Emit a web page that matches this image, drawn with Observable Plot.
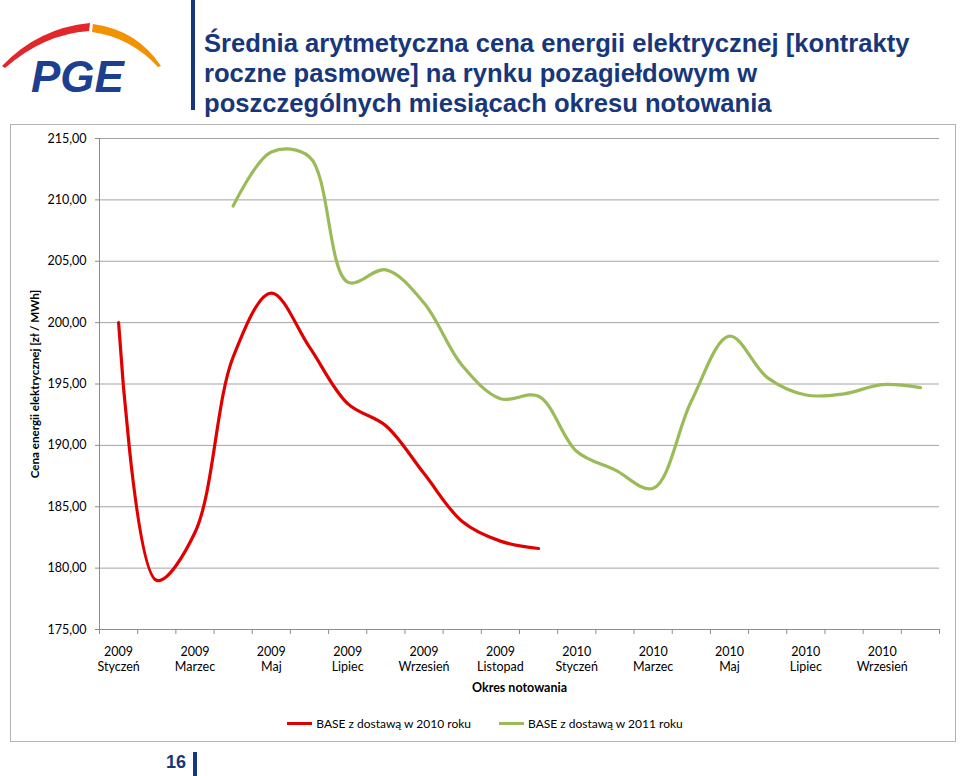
<!DOCTYPE html>
<html>
<head>
<meta charset="utf-8">
<script src="https://cdn.jsdelivr.net/npm/d3@7"></script>
<script src="https://cdn.jsdelivr.net/npm/@observablehq/plot@0.6"></script>
<style>
  html, body { margin: 0; padding: 0; background: #fff; }
  #page { position: relative; width: 960px; height: 776px; overflow: hidden; background: #fff; }
  #bar { position: absolute; left: 191px; top: 0; width: 4px; height: 110px; background: #17377a; }
  #title { position: absolute; left: 204px; top: 28px; font-family: "Liberation Sans", Arial, sans-serif; font-weight: bold; font-size: 25.6px; line-height: 30px; color: #17377a; white-space: nowrap; }
  #box { position: absolute; left: 10px; top: 124px; width: 944px; height: 616px; border: 1px solid #b4b4b4; }
  #chart { position: absolute; left: 0; top: 124px; }
  #legend { position: absolute; left: 0; width: 970px; top: 716px; display: flex; justify-content: center; gap: 28px; font-family: Lato, "Open Sans", sans-serif; font-size: 12px; color: #000; }
  #legend .item { display: flex; align-items: center; gap: 4px; }
  #legend .sw { display: inline-block; width: 25px; height: 3px; }
  #pnum { position: absolute; left: 166px; top: 752px; font-family: "Liberation Sans", Arial, sans-serif; font-weight: bold; font-size: 18px; color: #17377a; }
  #pbar { position: absolute; left: 193px; top: 752px; width: 4px; height: 24px; background: #17377a; }
</style>
</head>
<body>
<div id="page">
  <svg id="logo" width="190" height="110" style="position:absolute;left:0;top:0">
    <path d="M2,66 Q38,28 90,23 L89,31 Q44,34 5,68 Z" fill="#e3262b"/>
    <path d="M93,24 Q137,30 161,66 L158,67 Q130,37 92,32 Z" fill="#f39200"/>
    <text x="31" y="92" font-family="Liberation Sans, Arial, sans-serif" font-style="italic" font-weight="bold" font-size="44" fill="#1d3f8f" letter-spacing="0">PGE</text>
  </svg>
  <div id="bar"></div>
  <div id="title"></div>
  <div id="box"></div>
  <div id="chart"></div>
  <div id="legend"></div>
  <div id="pnum">16</div>
  <div id="pbar"></div>
</div>
<script>
// ---- data ----
const titleLines = [
  "Średnia arytmetyczna cena energii elektrycznej [kontrakty",
  "roczne pasmowe] na rynku pozagiełdowym w",
  "poszczególnych miesiącach okresu notowania"
];
const yTitle = "Cena energii elektrycznej [zł / MWh]";
const xTitle = "Okres notowania";
const years = ["2009","2009","2009","2009","2009","2009","2009","2009","2009","2009","2009","2009",
               "2010","2010","2010","2010","2010","2010","2010","2010","2010","2010"];
const months = ["Styczeń","Luty","Marzec","Kwiecień","Maj","Czerwiec","Lipiec","Sierpień","Wrzesień","Październik","Listopad","Grudzień",
                "Styczeń","Luty","Marzec","Kwiecień","Maj","Czerwiec","Lipiec","Sierpień","Wrzesień","Październik"];
const seriesNames = ["BASE z dostawą  w 2010 roku", "BASE z dostawą  w 2011 roku"];
const seriesColors = ["#e00000", "#9bbb59"];
// BASE 2010 (Jan 2009 – Dec 2009)
const base2010 = [200.0, 179.0, 182.9, 197.2, 202.4, 198.0, 193.4, 191.6, 187.7, 183.8, 182.2, 181.6,
                  null, null, null, null, null, null, null, null, null, null];
// BASE 2011 (Apr 2009 – Oct 2010)
const base2011 = [null, null, null, 209.5, 213.9, 213.5, 203.3, 204.3, 201.6, 196.5, 193.8, 194.0,
                  189.5, 188.0, 186.5, 193.6, 198.9, 195.5, 194.1, 194.2, 194.95, 194.7];
const yTicks = [175, 180, 185, 190, 195, 200, 205, 210, 215];
const yDomain = [175, 215];

// ---- build ----
document.getElementById("title").innerHTML = titleLines.join("<br>");

const idx = d3.range(years.length);
const labelTicks = idx.filter(i => i % 2 === 0);
const bounds = d3.range(years.length + 1).map(i => i - 0.5);
const catLabel = i => years[i] + "\n" + months[i];
const rows = (arr, s) => arr.map((v, i) => ({i, v, s})).filter(d => d.v != null);
const redData = rows(base2010, 0);
const greenData = rows(base2011, 1);
const fmt = d => d.toFixed(2).replace(".", ",");

const chart = Plot.plot({
  width: 960,
  height: 580,
  marginTop: 14,
  marginBottom: 75,
  marginLeft: 99,
  marginRight: 21,
  style: {fontFamily: "Lato, 'Open Sans', sans-serif", fontSize: "12.5px", color: "#000", background: "transparent", overflow: "visible"},
  x: {type: "linear", domain: [-0.5, years.length - 0.5]},
  y: {domain: yDomain},
  marks: [
    Plot.gridY(yTicks.slice(1), {stroke: "#a3a3a3", strokeOpacity: 1}),
    Plot.ruleX([-0.5], {stroke: "#8c8c8c", y1: yDomain[0], y2: yDomain[1]}),
    Plot.ruleY([yDomain[0]], {stroke: "#8c8c8c"}),
    Plot.axisY(yTicks, {tickSize: 4, tickPadding: 9, tickFormat: fmt, stroke: "#8c8c8c", label: null, fill: "#000"}),
    Plot.axisX(bounds, {tickSize: 5, tickFormat: () => "", stroke: "#8c8c8c", label: null}),
    Plot.axisX(labelTicks, {tickSize: 0, tickPadding: 16, tickFormat: catLabel, lineHeight: 1.2, label: null, fill: "#000"}),
    Plot.text([yTitle], {frameAnchor: "left", textAnchor: "middle", rotate: -90, dx: -64, fontWeight: "bold", fontSize: 11.6, fill: "#000"}),
    Plot.text([xTitle], {frameAnchor: "bottom", dy: 62, fontWeight: "bold", fontSize: 12.5, fill: "#000"}),
    Plot.line(redData, {x: "i", y: "v", stroke: seriesColors[0], strokeWidth: 3.2, curve: "catmull-rom"}),
    Plot.line(greenData, {x: "i", y: "v", stroke: seriesColors[1], strokeWidth: 3.2, curve: "catmull-rom"})
  ]
});
document.getElementById("chart").appendChild(chart);

const legend = document.getElementById("legend");
seriesNames.forEach((n, k) => {
  const it = document.createElement("div");
  it.className = "item";
  it.innerHTML = `<span class="sw" style="background:${seriesColors[k]}"></span><span>${n}</span>`;
  legend.appendChild(it);
});
</script>
</body>
</html>
